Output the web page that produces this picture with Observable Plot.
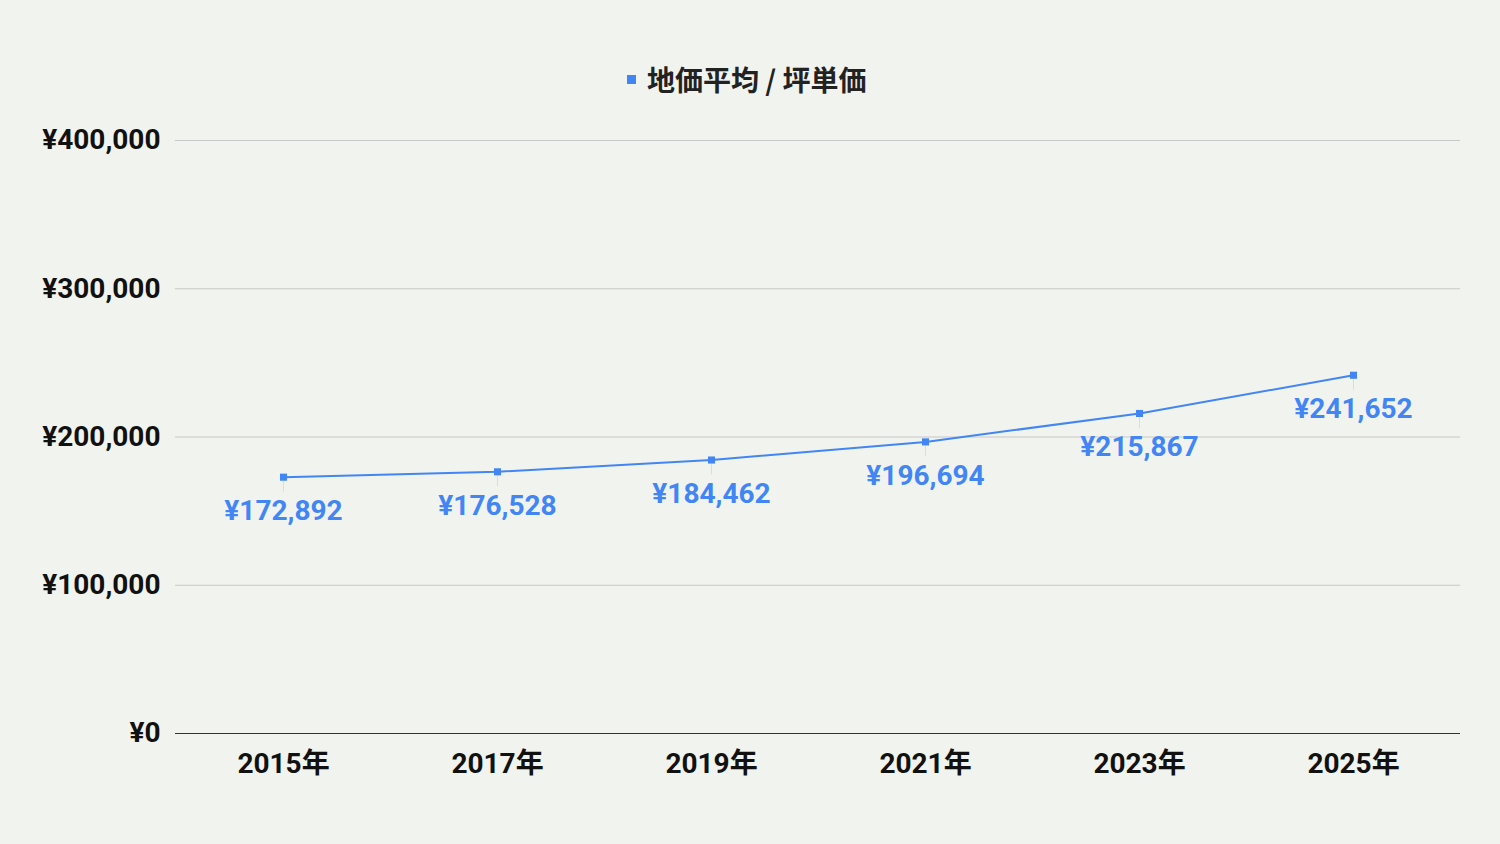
<!DOCTYPE html>
<html><head><meta charset="utf-8">
<script src="https://cdn.jsdelivr.net/npm/d3@7"></script>
<script src="https://cdn.jsdelivr.net/npm/@observablehq/plot@0.6"></script>
<style>
html,body{margin:0;padding:0;background:#f1f3ee;}
body{width:1500px;height:844px;overflow:hidden;font-family:Roboto,"Noto Sans CJK JP",sans-serif;}
#legend{height:110px;position:relative;}
#legend .sw{position:absolute;left:627px;top:75px;width:9px;height:9px;background:#4285f4;}
#legend .tx{position:absolute;left:647px;top:61px;font-size:28px;font-weight:700;color:#222;line-height:36px;font-family:"Noto Sans CJK JP",sans-serif;}
svg text{font-family:Roboto,"Noto Sans CJK JP",sans-serif;}
</style></head>
<body>
<div id="legend"><div class="sw"></div><div class="tx">地価平均 / 坪単価</div></div>
<div id="chart"></div>
<script>
const years = ["2015年","2017年","2019年","2021年","2023年","2025年"];
const prices = [172892,176528,184462,196694,215867,241652];
const yTicks = [0,100000,200000,300000,400000];
const seriesName = "地価平均 / 坪単価";

const data = years.map((y,i)=>({year:y, price:prices[i]}));
const fmt = v => "¥" + d3.format(",")(v);

const chart = Plot.plot({
  width:1500, height:734,
  marginLeft:175, marginRight:40, marginTop:30, marginBottom:111,
  style:{background:"transparent", fontFamily:"Roboto, 'Noto Sans CJK JP', sans-serif"},
  x:{type:"point", domain:years, padding:0.5, label:null, tickSize:0, tickPadding:20},
  y:{domain:[0,400000], ticks:yTicks, tickFormat:fmt, label:null, tickSize:0, tickPadding:15},
  marks:[
    Plot.gridY(yTicks.slice(1), {stroke:"#c8c8c8", strokeOpacity:1, strokeWidth:1}),
    Plot.ruleY([0], {stroke:"#333", strokeWidth:1}),
    Plot.axisX({fontSize:28, fontWeight:700, fill:"#111", tickSize:0, tickPadding:20}),
    Plot.axisY({ticks:yTicks, tickFormat:fmt, fontSize:28, fontWeight:700, fill:"#111", tickSize:0, tickPadding:15}),
    Plot.ruleX(data, {x:"year", y1:"price", y2:d=>d.price-10000, stroke:"#dcdcdc", strokeWidth:1}),
    Plot.line(data, {x:"year", y:"price", stroke:"#4285f4", strokeWidth:2}),
    Plot.dot(data, {x:"year", y:"price", symbol:"square", r:4, fill:"#4285f4", stroke:"none"}),
    Plot.text(data, {x:"year", y:"price", text:d=>fmt(d.price), dy:34, fill:"#4285f4", fontSize:28, fontWeight:700})
  ]
});
document.getElementById("chart").appendChild(chart);
</script>
</body></html>
